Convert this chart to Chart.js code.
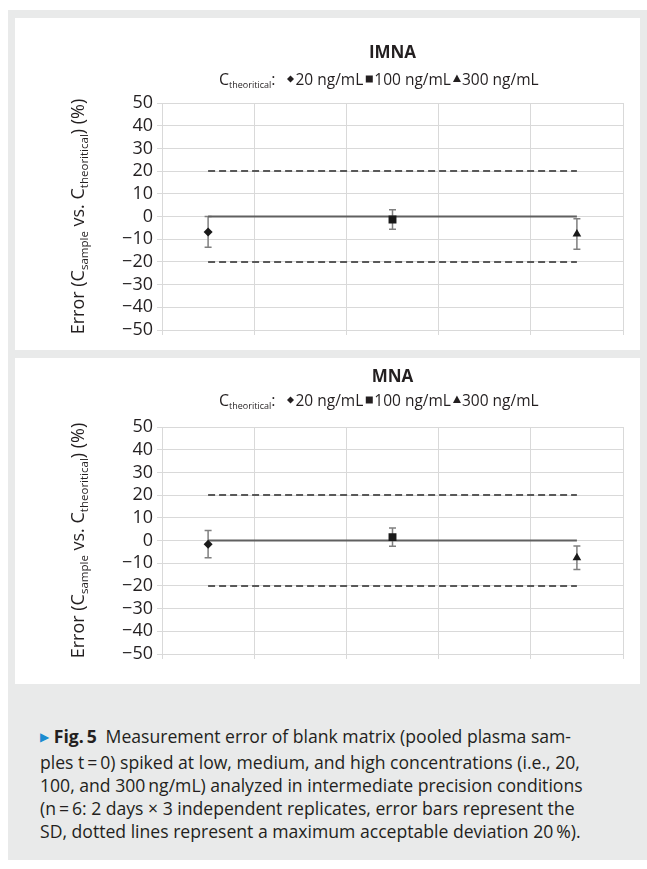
<!DOCTYPE html>
<html>
<head>
<meta charset="utf-8">
<script src="https://cdn.jsdelivr.net/npm/chart.js@4.4.1/dist/chart.umd.min.js"></script>
<style>
  body { margin: 0; width: 647px; height: 869px; position: relative; overflow: hidden; background: #fff; font-family: "Open Sans", sans-serif; color: #231f20; }
  #frame { position: absolute; left: 8px; top: 10px; width: 639px; height: 850px; background: #e9eaea; }
  .panel { position: absolute; left: 15px; width: 625px; background: #fff; }
  #p1 { top: 18px; height: 332px; }
  #p2 { top: 358px; height: 326px; }
  #caption { position: absolute; left: 40px; top: 725px; font-size: 17.6px; line-height: 23px; white-space: nowrap; }
  #caption .arr { color: #1b8bd0; font-family: "DejaVu Sans", sans-serif; font-size: 12px; position: relative; top: -2px; }
  #caption b { font-weight: 700; }
</style>
</head>
<body>
<div id="frame"></div>
<div class="panel" id="p1"><canvas id="chartIMNA"></canvas></div>
<div class="panel" id="p2"><canvas id="chartMNA"></canvas></div>
<div id="caption"><span class="arr">&#9654;</span> <b>Fig.&thinsp;5</b>&ensp;Measurement error of blank matrix (pooled plasma sam-<br>ples t&thinsp;=&thinsp;0) spiked at low, medium, and high concentrations (i.e., 20,<br>100, and 300&thinsp;ng/mL) analyzed in intermediate precision conditions<br>(n&thinsp;=&thinsp;6: 2 days × 3 independent replicates, error bars represent the<br>SD, dotted lines represent a maximum acceptable deviation 20&thinsp;%).</div>

<script>
// ---- dados ----
const categories = ['', '', '', '', ''];          // 5 posições no eixo x
const seriesLabels = ['20 ng/mL', '100 ng/mL', '300 ng/mL'];
const seriesSlot = [0, 2, 4];                      // categoria de cada concentração
const yTicks = [-50, -40, -30, -20, -10, 0, 10, 20, 30, 40, 50];
const limitUpper = 20;
const limitLower = -20;
const target = 0;

const imnaMean = [-6.8, -1.3, -7.7];
const imnaSD = [6.8, 4.3, 6.7];
const mnaMean = [-1.6, 1.5, -7.6];
const mnaSD = [6.0, 4.0, 5.2];

// ---- estilos ----
const FONT = '"Open Sans", sans-serif';
const INK = '#231f20';
const GRID = '#d9d9d9';
const pointStyles = ['rectRot', 'rect', 'triangle'];
const pointSizes = [4.5, 5.6, 5];

function minus(v) {
    return v < 0 ? '\u2212' + Math.abs(v) : String(v);
}

function drawMarker(ctx, style, x, y, r) {
    ctx.beginPath();
    if (style === 'rectRot') {
        ctx.moveTo(x, y - r); ctx.lineTo(x + r, y); ctx.lineTo(x, y + r); ctx.lineTo(x - r, y);
    } else if (style === 'rect') {
        ctx.rect(x - r, y - r, 2 * r, 2 * r);
    } else {
        ctx.moveTo(x, y - r * 1.1); ctx.lineTo(x + r, y + r * 0.75); ctx.lineTo(x - r, y + r * 0.75);
    }
    ctx.closePath();
    ctx.fill();
}

// barras de erro (SD)
const errorBars = {
    id: 'errorBars',
    beforeDatasetsDraw(chart) {
        const ctx = chart.ctx;
        const y = chart.scales.y;
        ctx.save();
        ctx.strokeStyle = '#7f7f7f';
        ctx.lineWidth = 1.5;
        chart.data.datasets.forEach((ds, i) => {
            if (!ds.sd) return;
            const meta = chart.getDatasetMeta(i);
            ds.data.forEach((v, k) => {
                if (v === null) return;
                const px = meta.data[k].x;
                const top = y.getPixelForValue(v + ds.sd);
                const bot = y.getPixelForValue(v - ds.sd);
                ctx.beginPath();
                ctx.moveTo(px, top); ctx.lineTo(px, bot);
                ctx.moveTo(px - 3.5, top); ctx.lineTo(px + 3.5, top);
                ctx.moveTo(px - 3.5, bot); ctx.lineTo(px + 3.5, bot);
                ctx.stroke();
            });
        });
        ctx.restore();
    }
};

// título, legenda com subscrito e título do eixo y
const decorations = {
    id: 'decorations',
    afterDraw(chart, args, opts) {
        const ctx = chart.ctx;
        const area = chart.chartArea;
        ctx.save();
        ctx.fillStyle = INK;

        // título
        ctx.font = `bold 17px ${FONT}`;
        ctx.textAlign = 'center';
        ctx.textBaseline = 'middle';
        ctx.fillText(opts.title, (area.left + area.right) / 2, area.top - 50);

        // legenda
        const ly = area.top - opts.legendGap;
        let x = area.left + 57;
        ctx.textAlign = 'left';
        ctx.textBaseline = 'alphabetic';
        const base = ly + 5.5;
        ctx.font = `16px ${FONT}`;
        ctx.fillText('C', x, base);
        x += ctx.measureText('C').width;
        ctx.font = `9px ${FONT}`;
        ctx.fillText('theoritical', x, base + 3);
        x += ctx.measureText('theoritical').width;
        ctx.font = `16px ${FONT}`;
        ctx.fillText(':', x, base);
        x += ctx.measureText(':').width + 12;
        seriesLabels.forEach((label, i) => {
            drawMarker(ctx, pointStyles[i], x + 3, ly, i === 2 ? 4 : 3.5);
            x += 8;
            ctx.font = `15.5px ${FONT}`;
            ctx.fillText(label, x, base);
            x += ctx.measureText(label).width + 3;
        });

        // título do eixo y
        const parts = [
            ['Error (C', false], ['sample', true], [' vs. C', false],
            ['theoritical', true], [') (%)', false]
        ];
        const big = `18px ${FONT}`, small = `11.5px ${FONT}`;
        let total = 0;
        parts.forEach(([t, sub]) => { ctx.font = sub ? small : big; total += ctx.measureText(t).width; });
        ctx.translate(area.left - 84, (area.top + area.bottom) / 2);
        ctx.rotate(-Math.PI / 2);
        let px = -total / 2;
        parts.forEach(([t, sub]) => {
            ctx.font = sub ? small : big;
            ctx.fillText(t, px, sub ? 10 : 6);
            px += ctx.measureText(t).width;
        });
        ctx.restore();
    }
};

function buildDatasets(means, sds) {
    const sets = seriesLabels.map((label, i) => ({
        label,
        data: categories.map((_, k) => (k === seriesSlot[i] ? means[i] : null)),
        sd: sds[i],
        showLine: false,
        pointStyle: pointStyles[i],
        pointRadius: pointSizes[i],
        pointBackgroundColor: '#1a1a1a',
        pointBorderColor: '#1a1a1a',
        pointBorderWidth: 0
    }));
    sets.push({
        label: 'target',
        data: categories.map(() => target),
        borderColor: '#606060', borderWidth: 2, pointRadius: 0
    });
    [limitUpper, limitLower].forEach(v => sets.push({
        label: 'limit',
        data: categories.map(() => v),
        borderColor: '#595959', borderWidth: 2, borderDash: [7, 4], pointRadius: 0
    }));
    return sets;
}

function createChart(id, title, means, sds, padTop, xHeight, legendGap) {
    return new Chart(document.getElementById(id), {
        type: 'line',
        data: { labels: categories, datasets: buildDatasets(means, sds) },
        options: {
            responsive: true,
            maintainAspectRatio: false,
            animation: false,
            layout: { padding: { top: padTop, right: 17, left: 0, bottom: 0 } },
            plugins: {
                legend: { display: false },
                tooltip: { enabled: false },
                decorations: { title, legendGap }
            },
            scales: {
                x: {
                    offset: true,
                    grid: { offset: true, color: GRID, tickLength: 5 },
                    border: { color: GRID },
                    ticks: { display: false },
                    afterFit: s => { s.height = xHeight; }
                },
                y: {
                    min: yTicks[0],
                    max: yTicks[yTicks.length - 1],
                    afterBuildTicks: s => { s.ticks = yTicks.map(v => ({ value: v })); },
                    ticks: { callback: minus, autoSkip: false, color: INK, font: { family: FONT, size: 18 }, padding: 4 },
                    grid: { color: GRID, tickLength: 5 },
                    border: { color: GRID },
                    afterFit: s => { s.width = 147; }
                }
            }
        },
        plugins: [errorBars, decorations]
    });
}

createChart('chartIMNA', 'IMNA', imnaMean, imnaSD, 85, 20, 24);
createChart('chartMNA', 'MNA', mnaMean, mnaSD, 69, 30, 27);
</script>
</body>
</html>
